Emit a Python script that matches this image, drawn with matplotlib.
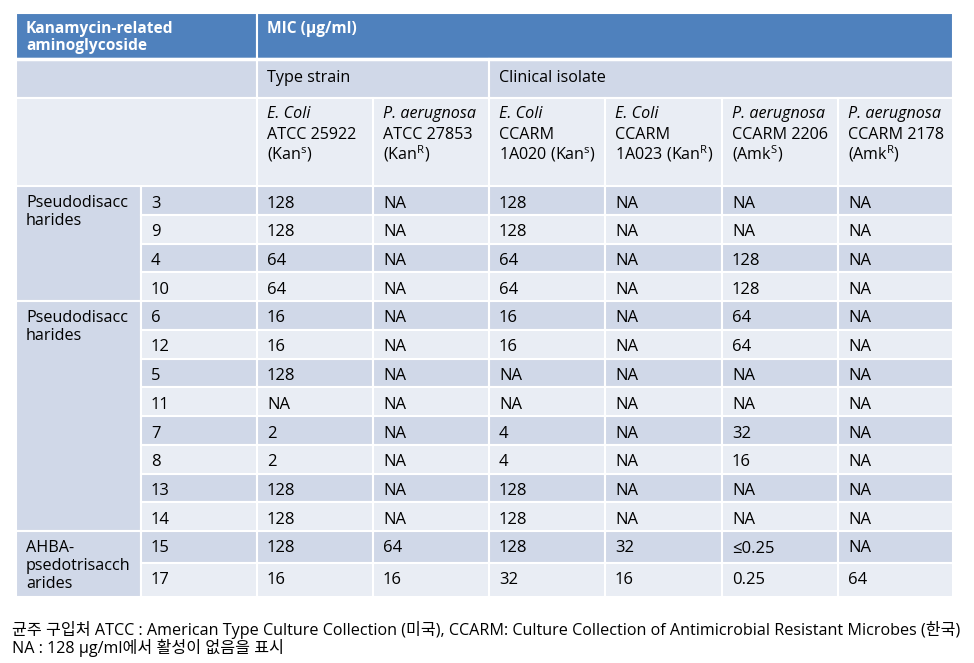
import matplotlib
matplotlib.use("Agg")
import matplotlib.pyplot as plt
from matplotlib.patches import Rectangle

plt.rcParams["font.family"] = ["Open Sans", "Noto Sans CJK KR", "DejaVu Sans"]
plt.rcParams["mathtext.fontset"] = "custom"
plt.rcParams["mathtext.rm"] = "Open Sans"

# --- data ---
header_left = ["Kanamycin-related", "aminoglycoside"]
header_mic = "MIC (μg/ml)"
strain_groups = ["Type strain", "Clinical isolate"]
strain_group_sizes = [2, 4]
group_labels = [["Pseudodisacc", "harides"], ["Pseudodisacc", "harides"],
                ["AHBA-", "psedotrisacch", "arides"]]
group_sizes = [4, 8, 2]
compounds = ["3", "9", "4", "10", "6", "12", "5", "11", "7", "8", "13", "14", "15", "17"]
strain_species = ["E. Coli", "P. aerugnosa", "E. Coli", "E. Coli", "P. aerugnosa", "P. aerugnosa"]
strain_ids = [
    ["ATCC 25922", "(Kan$^\\mathregular{s}$)"],
    ["ATCC 27853", "(Kan$^\\mathregular{R}$)"],
    ["CCARM", "1A020 (Kan$^\\mathregular{s}$)"],
    ["CCARM", "1A023 (Kan$^\\mathregular{R}$)"],
    ["CCARM 2206", "(Amk$^\\mathregular{S}$)"],
    ["CCARM 2178", "(Amk$^\\mathregular{R}$)"],
]
mic_atcc25922 = ["128", "128", "64", "64", "16", "16", "128", "NA", "2", "2", "128", "128", "128", "16"]
mic_atcc27853 = ["NA"] * 12 + ["64", "16"]
mic_1a020 = ["128", "128", "64", "64", "16", "16", "NA", "NA", "4", "4", "128", "128", "128", "32"]
mic_1a023 = ["NA"] * 12 + ["32", "16"]
mic_2206 = ["NA", "NA", "128", "128", "64", "64", "NA", "NA", "32", "16", "NA", "NA", "≤0.25", "0.25"]
mic_2178 = ["NA"] * 13 + ["64"]
mic_columns = [mic_atcc25922, mic_atcc27853, mic_1a020, mic_1a023, mic_2206, mic_2178]
footnotes = [
    "균주 구입처 ATCC : American Type Culture Collection (미국), CCARM: Culture Collection of Antimicrobial Resistant Microbes (한국)",
    "NA : 128 μg/ml에서 활성이 없음을 표시",
]

# --- layout (pixels) ---
W, H = 974, 663
col_edges = [16, 141, 257, 373, 489, 605, 722, 838, 953]
head_edges = [13, 59, 98, 186]
row_heights = [28.75] * 12 + [32, 34]
PAD = 10
FS = 12
FS_HEAD = 11.2
BLUE, DARK, LIGHT = "#4F81BD", "#D0D8E8", "#E9EDF4"

fig = plt.figure(figsize=(W / 100, H / 100), dpi=100)
ax = fig.add_axes([0, 0, 1, 1])
ax.set_xlim(0, W)
ax.set_ylim(H, 0)
ax.axis("off")


def cell(x0, x1, y0, y1, color):
    ax.add_patch(Rectangle((x0, y0), x1 - x0, y1 - y0, facecolor=color,
                           edgecolor="white", linewidth=1.5))


def txt(x, y, s, **kw):
    kw.setdefault("fontsize", FS)
    ax.text(x, y, s, va="baseline", ha="left", **kw)


# header row 1
cell(col_edges[0], col_edges[2], head_edges[0], head_edges[1], BLUE)
cell(col_edges[2], col_edges[-1], head_edges[0], head_edges[1], BLUE)
for k, line in enumerate(header_left):
    txt(col_edges[0] + PAD, head_edges[0] + 20 + 17 * k, line, color="white",
        fontweight="bold", fontsize=FS_HEAD)
txt(col_edges[2] + PAD, head_edges[0] + 20, header_mic, color="white",
    fontweight="bold", fontsize=FS_HEAD)
ax.plot([col_edges[0], col_edges[-1]], [head_edges[1], head_edges[1]], color="white", lw=2.5)

# header row 2
cell(col_edges[0], col_edges[2], head_edges[1], head_edges[2], DARK)
c = 2
for name, n in zip(strain_groups, strain_group_sizes):
    cell(col_edges[c], col_edges[c + n], head_edges[1], head_edges[2], DARK)
    txt(col_edges[c] + PAD, head_edges[1] + 23, name, fontsize=11.6)
    c += n

# header row 3
cell(col_edges[0], col_edges[2], head_edges[2], head_edges[3], LIGHT)
for i, (sp, sid) in enumerate(zip(strain_species, strain_ids)):
    x0 = col_edges[i + 2]
    cell(x0, col_edges[i + 3], head_edges[2], head_edges[3], LIGHT)
    txt(x0 + PAD, head_edges[2] + 20, sp, style="italic", fontsize=11.6)
    for k, line in enumerate(sid):
        txt(x0 + PAD, head_edges[2] + 41 + 20 * k, line, fontsize=11.6)

# data rows
row_tops = [head_edges[3]]
for h in row_heights:
    row_tops.append(row_tops[-1] + h)

r = 0
for label, n in zip(group_labels, group_sizes):
    cell(col_edges[0], col_edges[1], row_tops[r], row_tops[r + n], DARK)
    for k, line in enumerate(label):
        txt(col_edges[0] + PAD, row_tops[r] + 21 + 18 * k, line, fontsize=11.6)
    r += n

for i, comp in enumerate(compounds):
    y0, y1 = row_tops[i], row_tops[i + 1]
    color = DARK if i % 2 == 0 else LIGHT
    yb = y0 + 21.5
    cell(col_edges[1], col_edges[2], y0, y1, color)
    txt(col_edges[1] + PAD, yb, comp)
    for j, col in enumerate(mic_columns):
        cell(col_edges[j + 2], col_edges[j + 3], y0, y1, color)
        txt(col_edges[j + 2] + PAD, yb, col[i])

# footnotes
for k, line in enumerate(footnotes):
    txt(12, 635 + 18 * k, line, fontsize=11.6)

fig.savefig("out.png", dpi=100)
